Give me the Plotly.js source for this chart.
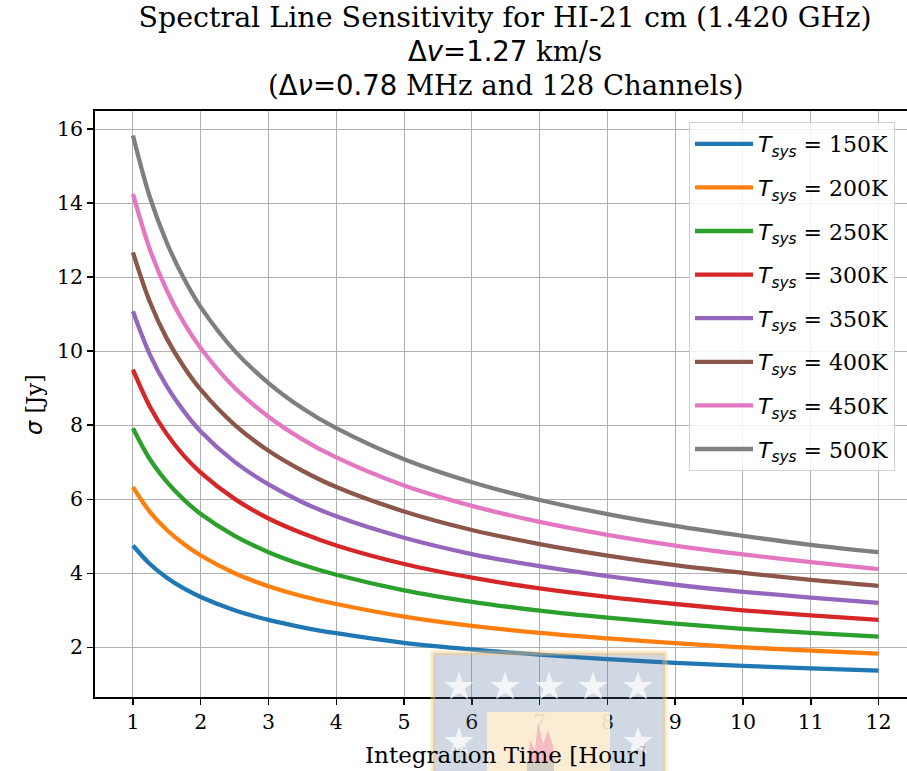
<!DOCTYPE html>
<html>
<head>
<meta charset="utf-8">
<script src="https://cdn.plot.ly/plotly-3.0.1.min.js"></script>
<style>html,body{margin:0;padding:0;background:#fff;}#chart{width:907px;height:771px;}</style>
</head>
<body>
<div id="chart"></div>
<script>
// Integration time [hour]
const hours = [1, 1.25, 1.5, 1.75, 2, 2.5, 3, 3.5, 4, 5, 6, 7, 8, 9, 10, 11, 12];
// System temperatures [K]
const tsysLabels = [150, 200, 250, 300, 350, 400, 450, 500];
// sigma [Jy], one array per Tsys
const sigma150 = [4.75, 4.25, 3.88, 3.59, 3.36, 3.00, 2.74, 2.54, 2.38, 2.12, 1.94, 1.80, 1.68, 1.58, 1.50, 1.43, 1.37];
const sigma200 = [6.33, 5.66, 5.17, 4.79, 4.48, 4.00, 3.65, 3.38, 3.17, 2.83, 2.58, 2.39, 2.24, 2.11, 2.00, 1.91, 1.83];
const sigma250 = [7.92, 7.08, 6.47, 5.99, 5.60, 5.01, 4.57, 4.23, 3.96, 3.54, 3.23, 2.99, 2.80, 2.64, 2.50, 2.39, 2.29];
const sigma300 = [9.50, 8.50, 7.76, 7.18, 6.72, 6.01, 5.48, 5.08, 4.75, 4.25, 3.88, 3.59, 3.36, 3.17, 3.00, 2.86, 2.74];
const sigma350 = [11.08, 9.91, 9.05, 8.38, 7.83, 7.01, 6.40, 5.92, 5.54, 4.96, 4.52, 4.19, 3.92, 3.69, 3.50, 3.34, 3.20];
const sigma400 = [12.67, 11.33, 10.34, 9.58, 8.96, 8.01, 7.31, 6.77, 6.33, 5.67, 5.17, 4.79, 4.48, 4.22, 4.01, 3.82, 3.66];
const sigma450 = [14.25, 12.75, 11.64, 10.77, 10.08, 9.01, 8.23, 7.62, 7.13, 6.37, 5.82, 5.39, 5.04, 4.75, 4.51, 4.30, 4.11];
const sigma500 = [15.83, 14.16, 12.93, 11.97, 11.19, 10.01, 9.14, 8.46, 7.92, 7.08, 6.46, 5.98, 5.60, 5.28, 5.01, 4.77, 4.57];
const allSigma = [sigma150, sigma200, sigma250, sigma300, sigma350, sigma400, sigma450, sigma500];
const xTicks = [1, 2, 3, 4, 5, 6, 7, 8, 9, 10, 11, 12];
const yTicks = [2, 4, 6, 8, 10, 12, 14, 16];

const colors = ['#1f77b4', '#ff7f0e', '#2ca02c', '#d62728', '#9467bd', '#8c564b', '#e377c2', '#7f7f7f'];
const SERIF = 'DejaVu Serif';

const traces = allSigma.map((s, i) => ({
  x: hours,
  y: s,
  type: 'scatter',
  mode: 'lines',
  line: {color: colors[i], width: 4.3, shape: 'spline', smoothing: 1},
  legendgroup: 'g' + i,
  name: "<span style='font-family:DejaVu Sans;font-style:italic'>T<sub>sys</sub></span>" +
        "<span style='font-family:DejaVu Sans'> = </span>" + tsysLabels[i] + 'K'
}));

// pixel -> paper helpers for the decorative watermark
const PX = px => (px - 95) / 812;
const PY = py => (697 - py) / 586;

const shapes = [
  {type: 'rect', xref: 'paper', yref: 'paper', x0: PX(433), x1: PX(665), y0: PY(653), y1: PY(800),
   fillcolor: 'rgba(82,112,152,0.27)', line: {width: 5, color: 'rgba(252,200,120,0.4)'}, layer: 'above'},
  {type: 'rect', xref: 'paper', yref: 'paper', x0: PX(487), x1: PX(610), y0: PY(712), y1: PY(800),
   fillcolor: 'rgba(255,238,210,0.9)', line: {width: 0}, layer: 'above'},
  {type: 'path', xref: 'paper', yref: 'paper', layer: 'above',
   path: `M ${PX(528)},${PY(762)} L ${PX(530)},${PY(740)} L ${PX(535)},${PY(750)} L ${PX(538)},${PY(722)} L ${PX(543)},${PY(744)} L ${PX(548)},${PY(730)} L ${PX(553)},${PY(746)} L ${PX(554)},${PY(762)} Z`,
   fillcolor: 'rgba(240,130,180,0.45)', line: {width: 0}},
  {type: 'rect', xref: 'paper', yref: 'paper', x0: PX(527), x1: PX(554), y0: PY(771), y1: PY(762),
   fillcolor: 'rgba(82,112,152,0.25)', line: {width: 0}, layer: 'above'}
];

const starPos = [[459, 686], [505, 686], [549, 686], [593, 686], [638, 686], [459, 741], [638, 741]];
const SANS = "<span style='font-family:DejaVu Sans'>";
const annotations = [
  {text: SANS + '\u0394<i>v</i>=1.27</span> km/s', xref: 'paper', yref: 'paper', x: PX(505), y: PY(51),
   showarrow: false, font: {family: SERIF, size: 27.5, color: '#000'}, xanchor: 'center', yanchor: 'middle'},
  {text: '(' + SANS + '\u0394<i>\u03bd</i>=0.78</span> MHz and 128 Channels)', xref: 'paper', yref: 'paper', x: PX(505), y: PY(85),
   showarrow: false, font: {family: SERIF, size: 27.5, color: '#000'}, xanchor: 'center', yanchor: 'middle'},
  {text: 'Integration Time [Hour]', xref: 'paper', yref: 'paper', x: PX(506), y: PY(755),
   showarrow: false, font: {family: SERIF, size: 23, color: '#000'}, xanchor: 'center', yanchor: 'middle'},
  {text: "<span style='font-family:DejaVu Sans'><i>\u03c3</i></span> [Jy]", xref: 'paper', yref: 'paper', x: PX(34), y: PY(404),
   showarrow: false, textangle: -90, font: {family: SERIF, size: 22.5, color: '#000'}, xanchor: 'center', yanchor: 'middle'}
].concat(starPos.map(p => ({
  text: '\u2605', xref: 'paper', yref: 'paper', x: PX(p[0]), y: PY(p[1]), showarrow: false,
  font: {family: 'DejaVu Sans', size: 38, color: 'rgba(255,255,255,0.75)'}, xanchor: 'center', yanchor: 'middle'
})));

const layout = {
  width: 907, height: 771,
  margin: {l: 95, r: 0, t: 111, b: 74},
  paper_bgcolor: '#fff', plot_bgcolor: '#fff',
  title: {text: 'Spectral Line Sensitivity for HI-21 cm (1.420 GHz)', x: PX(505), xref: 'paper', xanchor: 'center',
          y: 1 - 17 / 771, yanchor: 'middle', font: {family: SERIF, size: 28.5, color: '#000'}},
  showlegend: true,
  legend: {x: PX(689), y: PY(122), xanchor: 'left', yanchor: 'top', bgcolor: 'rgba(255,255,255,0.85)',
           bordercolor: '#d0d0d0', borderwidth: 1, tracegroupgap: 12, itemwidth: 58,
           font: {family: SERIF, size: 22, color: '#000'}},
  xaxis: {range: [0.44, 12.42], tickvals: xTicks, ticktext: xTicks.map(String), ticks: 'outside', ticklen: 6, tickwidth: 1.5,
          tickcolor: '#000', showline: true, linecolor: '#000', linewidth: 1.8, mirror: true,
          showgrid: true, gridcolor: '#b0b0b0', gridwidth: 1, zeroline: false,
          tickfont: {family: SERIF, size: 20.5, color: '#000'}},
  yaxis: {range: [0.657, 16.49], tickvals: yTicks, ticktext: yTicks.map(String), ticks: 'outside', ticklen: 6, tickwidth: 1.5,
          tickcolor: '#000', showline: true, linecolor: '#000', linewidth: 1.8, mirror: false,
          showgrid: true, gridcolor: '#b0b0b0', gridwidth: 1, zeroline: false,
          tickfont: {family: SERIF, size: 20.5, color: '#000'}},
  shapes: shapes,
  annotations: annotations
};

Plotly.newPlot('chart', traces, layout, {displayModeBar: false, staticPlot: true});
</script>
</body>
</html>
